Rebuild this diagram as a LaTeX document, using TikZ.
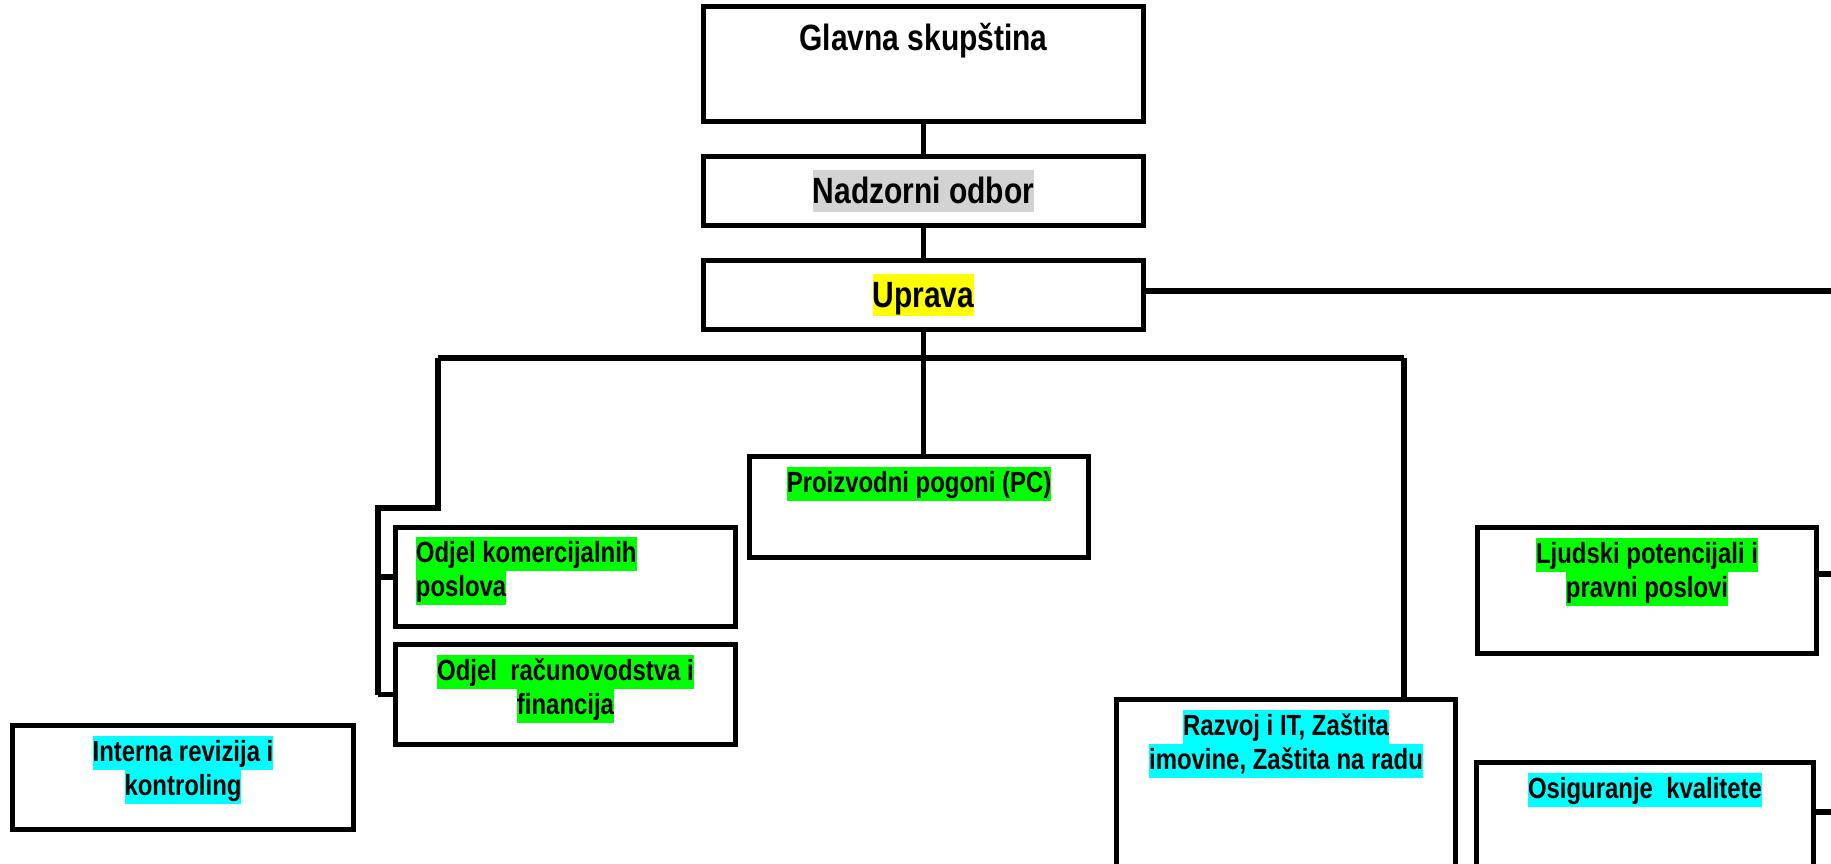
\documentclass[tikz,border=0pt]{standalone}
\usepackage{fontspec}
\setmainfont{Liberation Sans}[FakeStretch=0.82]
\usetikzlibrary{positioning}

\definecolor{hlgray}{RGB}{211,211,211}
\definecolor{hlyellow}{RGB}{255,255,0}
\definecolor{hlgreen}{RGB}{0,255,0}
\definecolor{hlcyan}{RGB}{0,255,255}

% highlighted lines of text, one band per line
\newcommand{\hlsmall}[2]{{\fboxsep=0pt\colorbox{#1}{\rule[-2.3pt]{0pt}{9.67pt}#2}}}
\newcommand{\hlbig}[2]{{\fboxsep=0pt\colorbox{#1}{\rule[-2.56pt]{0pt}{12.23pt}#2}}}

\tikzset{
  box/.style={draw, line width=1.6pt, inner sep=0pt},
  txt/.style={inner sep=0pt, align=center, font=\fontsize{8.3pt}{9.7pt}\selectfont\bfseries},
  bigtxt/.style={inner sep=0pt, align=center, font=\fontsize{10.4pt}{12.3pt}\selectfont\bfseries},
  wire/.style={line width=1.5pt, line join=miter},
}

\begin{document}
\begin{tikzpicture}[node distance=0.125cm]
  \useasboundingbox (0,0) rectangle (18.31,-8.63);
  \clip (0,0) rectangle (18.31,-8.63);

  % top of the chart
  \node[box, minimum width=4.40cm, minimum height=1.15cm] (ga) at (9.235,-0.64) {};
  \node[bigtxt, below=of ga.north] (gat) {\hlbig{white}{Glavna skupština}};
  \node[box, bigtxt, minimum width=4.40cm, minimum height=0.69cm] (no) at (9.235,-1.91) {\hlbig{hlgray}{Nadzorni odbor}};
  \node[box, bigtxt, minimum width=4.40cm, minimum height=0.69cm] (up) at (9.235,-2.95) {\hlbig{hlyellow}{Uprava}};

  % departments
  \node[box, minimum width=3.39cm, minimum height=1.01cm] (pc) at (9.19,-5.07) {};
  \node[txt, below=of pc.north] (pct) {\hlsmall{hlgreen}{Proizvodni pogoni (PC)}};
  \node[box, minimum width=3.40cm, minimum height=0.99cm] (ok) at (5.655,-5.77) {};
  \node[txt, align=left, below right=0.115cm and 0.225cm of ok.north west] (okt) {\hlsmall{hlgreen}{Odjel komercijalnih}\\\hlsmall{hlgreen}{poslova}};
  \node[box, minimum width=3.40cm, minimum height=1.00cm] (or) at (5.655,-6.945) {};
  \node[txt, below=of or.north] (ort) {\hlsmall{hlgreen}{Odjel\ \ računovodstva i}\\\hlsmall{hlgreen}{financija}};
  \node[box, minimum width=3.41cm, minimum height=1.04cm] (ir) at (1.83,-7.775) {};
  \node[txt, below=of ir.north] (irt) {\hlsmall{hlcyan}{Interna revizija i}\\\hlsmall{hlcyan}{kontroling}};
  \node[box, minimum width=3.39cm, minimum height=1.85cm] (rz) at (12.86,-7.92) {};
  \node[txt, below=of rz.north] (rzt) {\hlsmall{hlcyan}{Razvoj i IT, Zaštita}\\\hlsmall{hlcyan}{imovine, Zaštita na radu}};
  \node[box, minimum width=3.39cm, minimum height=1.26cm] (lj) at (16.47,-5.905) {};
  \node[txt, below=of lj.north] (ljt) {\hlsmall{hlgreen}{Ljudski potencijali i}\\\hlsmall{hlgreen}{pravni poslovi}};
  \node[box, minimum width=3.37cm, minimum height=1.225cm] (os) at (16.45,-8.2375) {};
  \node[txt, below=of os.north] (ost) {\hlsmall{hlcyan}{Osiguranje\ \ kvalitete}};

  % connectors
  \coordinate (busl) at (4.38,-3.58);
  \coordinate (busr) at (14.04,-3.58);
  \coordinate (jog) at (3.78,-5.08);
  \coordinate (upout) at (18.4,-2.91);
  \coordinate (ljout) at (18.4,-5.74);
  \coordinate (osout) at (18.4,-8.12);

  \draw[wire] (ga.south) -- (no.north);
  \draw[wire] (no.south) -- (up.north);
  \draw[wire] (up.south) -- (up.south |- pc.north);
  \draw[wire] (busl) -- (busr);
  \draw[wire] (busl) -- (busl |- jog) -- (jog) -- (jog |- or.west);
  \draw[wire] (jog |- ok.west) -- (ok.west);
  \draw[wire] (jog |- or.west) -- (or.west);
  \draw[wire] (busr) -- (busr |- rz.north);
  \draw[wire] (up.east |- upout) -- (upout);
  \draw[wire] (lj.east |- ljout) -- (ljout);
  \draw[wire] (os.east |- osout) -- (osout);
\end{tikzpicture}
\end{document}
